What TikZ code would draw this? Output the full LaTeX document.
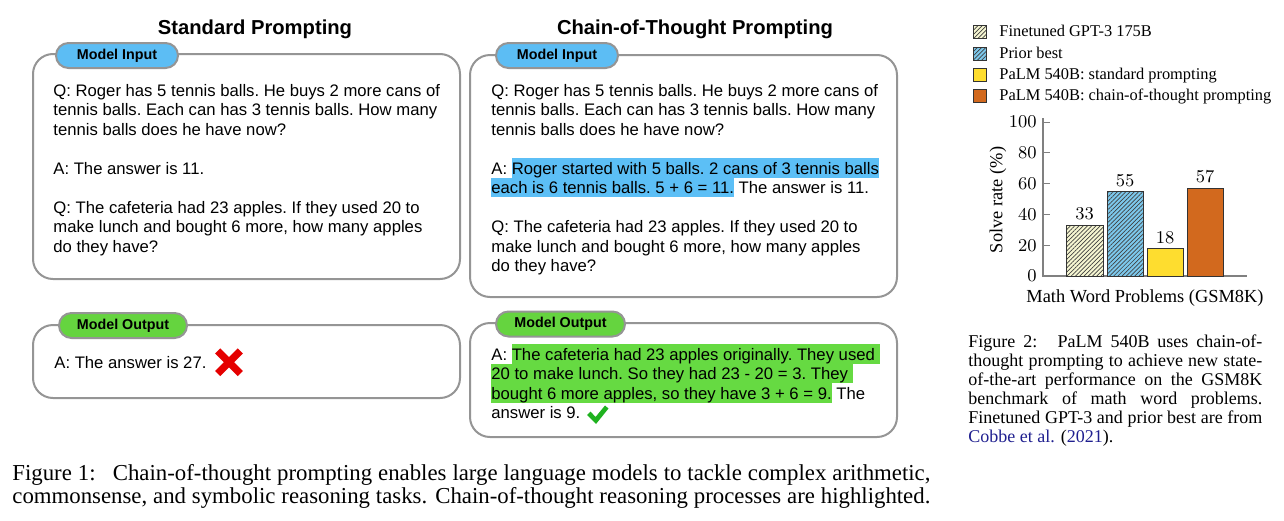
\documentclass[tikz,border=0pt]{standalone}
\usepackage{fontspec}
\newfontfamily\arialf{Liberation Sans}
\newfontfamily\timesf{Liberation Serif}
\usetikzlibrary{patterns.meta}
\definecolor{boxgray}{HTML}{959595}
\definecolor{tabblue}{HTML}{5CBDF4}
\definecolor{tabgreen}{HTML}{65D43F}
\definecolor{hlblue}{HTML}{5CBFF6}
\definecolor{hlgreen}{HTML}{66DA42}
\definecolor{xred}{HTML}{E50000}
\definecolor{chkgreen}{HTML}{1FB21F}
\definecolor{axgray}{HTML}{808080}
\definecolor{barcream}{HTML}{F6F6D2}
\definecolor{barblue}{HTML}{7CC8EC}
\definecolor{baryellow}{HTML}{FEDD2F}
\definecolor{barorange}{HTML}{D2691E}
\definecolor{citeblue}{HTML}{1F1F8F}
\newcommand\hlstrut{\rule[-1.9pt]{0pt}{9.75pt}}
\newcommand\hlB[1]{{\setlength{\fboxsep}{0pt}\colorbox{hlblue}{\hlstrut#1}}}
\newcommand\hlG[1]{{\setlength{\fboxsep}{0pt}\colorbox{hlgreen}{\hlstrut#1}}}
\newcommand\paneltext{\arialf\fontsize{8.34}{9.75}\selectfont\frenchspacing}
\tikzset{
  panelbox/.style={draw=boxgray, line width=1pt, fill=white, rounded corners=10pt},
  tabbox/.style={draw=boxgray, line width=1pt, rounded corners=6.25pt, minimum height=12.5pt, inner sep=0pt,
    font={\arialf\bfseries\fontsize{7.15}{8}\selectfont}},
  titletext/.style={font={\arialf\bfseries\fontsize{10.1}{12}\selectfont}, anchor=base, inner sep=0pt},
  ptext/.style={anchor=base west, inner sep=0pt},
  axisline/.style={draw=axgray, line width=0.6pt},
  ticklab/.style={anchor=east, inner sep=0pt, font={\fontsize{9}{10}\selectfont}},
  vallab/.style={inner sep=0pt, font={\fontsize{9}{10}\selectfont}},
  axlab/.style={inner sep=0pt, font={\timesf\fontsize{9.2}{10}\selectfont}},
  legtext/.style={anchor=base west, inner sep=0pt, font={\timesf\fontsize{8.2}{9}\selectfont}},
  barline/.style={draw=black!80, line width=0.5pt},
  hatch/.style={pattern={Lines[angle=45,distance=1.5pt,line width=0.35pt]}, pattern color=black!75},
}
\begin{document}
\begin{tikzpicture}[x=0.5pt,y=-0.5pt]
\useasboundingbox (0,0) rectangle (1284,520);
% titles
\node[titletext] (t1) at (255,34.5) {Standard Prompting};
\node[titletext] (t2) at (695,34.5) {Chain-of-Thought Prompting};
% panels
\draw[panelbox] (33,54) rectangle (460,279);
\draw[panelbox] (470,55) rectangle (897,297);
\draw[panelbox] (33,325) rectangle (460,398);
\draw[panelbox] (470,323) rectangle (897,437);
\node[tabbox, fill=tabblue, minimum width=61pt] (tabIL) at (117,55.5) {Model Input};
\node[tabbox, fill=tabblue, minimum width=61pt] (tabIM) at (557,55.5) {Model Input};
\node[tabbox, fill=tabgreen, minimum width=64pt] (tabOL) at (123,325.5) {Model Output};
\node[tabbox, fill=tabgreen, minimum width=64.5pt] (tabOM) at (560.5,324) {Model Output};
% panel texts
\node[ptext] (inL) at (53,96) {\parbox[t]{230pt}{\paneltext\raggedright
Q: Roger has 5 tennis balls. He buys 2 more cans of\\
tennis balls. Each can has 3 tennis balls. How many\\
tennis balls does he have now?\\[9.75pt]
A: The answer is 11.\\[9.75pt]
Q: The cafeteria had 23 apples. If they used 20 to\\
make lunch and bought 6 more, how many apples\\
do they have?}};
\node[ptext] (inM) at (491,96) {\parbox[t]{230pt}{\paneltext\raggedright
Q: Roger has 5 tennis balls. He buys 2 more cans of\\
tennis balls. Each can has 3 tennis balls. How many\\
tennis balls does he have now?\\[9.75pt]
A: \hlB{Roger started with 5 balls. 2 cans of 3 tennis balls}\\
\hlB{each is 6 tennis balls. 5 + 6 = 11.} The answer is 11.\\[9.75pt]
Q: The cafeteria had 23 apples. If they used 20 to\\
make lunch and bought 6 more, how many apples\\
do they have?}};
\node[ptext] (outL) at (54,368) {\paneltext A: The answer is 27.};
\node[ptext] (outM) at (491,360) {\parbox[t]{230pt}{\paneltext\raggedright
A: \hlG{The cafeteria had 23 apples originally. They used\ }\\
\hlG{20 to make lunch. So they had 23 - 20 = 3. They\ }\\
\hlG{bought 6 more apples, so they have 3 + 6 = 9.} The\\
answer is 9.}};
% red cross
\draw[xred, line width=3.6pt] (217.7,351) -- (240.3,373.6) (240.3,351) -- (217.7,373.6);
% check mark
\fill[chkgreen] (587,415) -- (590.5,411.5) -- (595.5,417) -- (605,405.5) -- (608.5,408.5) -- (596,424) -- cycle;
% chart legend
\fill[barcream] (973.5,25) rectangle (986.5,38);
\fill[hatch] (973.5,25) rectangle (986.5,38);
\draw[barline] (973.5,25) rectangle (986.5,38);
\fill[barblue] (973.5,47) rectangle (986.5,60);
\fill[hatch] (973.5,47) rectangle (986.5,60);
\draw[barline] (973.5,47) rectangle (986.5,60);
\draw[barline, fill=baryellow] (973.5,68) rectangle (986.5,81);
\draw[barline, fill=barorange] (973.5,89) rectangle (986.5,102);
\node[legtext] (lg1) at (999,36.5) {Finetuned GPT-3 175B};
\node[legtext] (lg2) at (999,58.5) {Prior best};
\node[legtext] (lg3) at (999,79.5) {PaLM 540B: standard prompting};
\node[legtext] (lg4) at (999,100.5) {PaLM 540B: chain-of-thought prompting};
% axes
\draw[axisline] (1043,118) -- (1043,276) -- (1247,276);
\foreach \v in {0,20,40,60,80,100} {
  \draw[axisline, line width=0.4pt] (1043,276-1.54*\v) -- (1050,276-1.54*\v);
  \node[ticklab] (tk\v) at (1037,276-1.54*\v) {\v};
}
% bars
\fill[barcream] (1066,225.2) rectangle (1103,276);
\fill[hatch] (1066,225.2) rectangle (1103,276);
\draw[barline] (1066,225.2) rectangle (1103,276);
\fill[barblue] (1107,191.3) rectangle (1143,276);
\fill[hatch] (1107,191.3) rectangle (1143,276);
\draw[barline] (1107,191.3) rectangle (1143,276);
\draw[barline, fill=baryellow] (1147,248.3) rectangle (1183,276);
\draw[barline, fill=barorange] (1187,188.2) rectangle (1223,276);
\node[vallab] (v1) at (1084.5,213.5) {33};
\node[vallab] (v2) at (1125,180.5) {55};
\node[vallab] (v3) at (1165,237.3) {18};
\node[vallab] (v4) at (1205,176.5) {57};
\node[axlab, rotate=90] (ylab) at (998,200) {Solve rate (\%)};
\node[axlab] (xlab) at (1145,298) {Math Word Problems (GSM8K)};
% figure 2 caption
\node[ptext] (cap2) at (968,347.3) {\parbox[t]{147pt}{\timesf\fontsize{9}{9.5}\selectfont
\makebox[147pt][s]{Figure 2:\hspace{0.4em} PaLM 540B uses chain-of-}\\
\makebox[147pt][s]{thought prompting to achieve new state-}\\
\makebox[147pt][s]{of-the-art performance on the GSM8K}\\
\makebox[147pt][s]{benchmark of math word problems.}\\
\makebox[147pt][s]{Finetuned GPT-3 and prior best are from}\\
\textcolor{citeblue}{Cobbe et al.} (\textcolor{citeblue}{2021}).}};
% figure 1 caption
\node[ptext] (cap1) at (12,480) {\parbox[t]{459pt}{\timesf\fontsize{11.4}{11.75}\selectfont
\makebox[459pt][s]{Figure 1:\hspace{0.4em} Chain-of-thought prompting enables large language models to tackle complex arithmetic,}\\
\makebox[459pt][s]{commonsense, and symbolic reasoning tasks. Chain-of-thought reasoning processes are highlighted.}}};
\end{tikzpicture}
\end{document}
